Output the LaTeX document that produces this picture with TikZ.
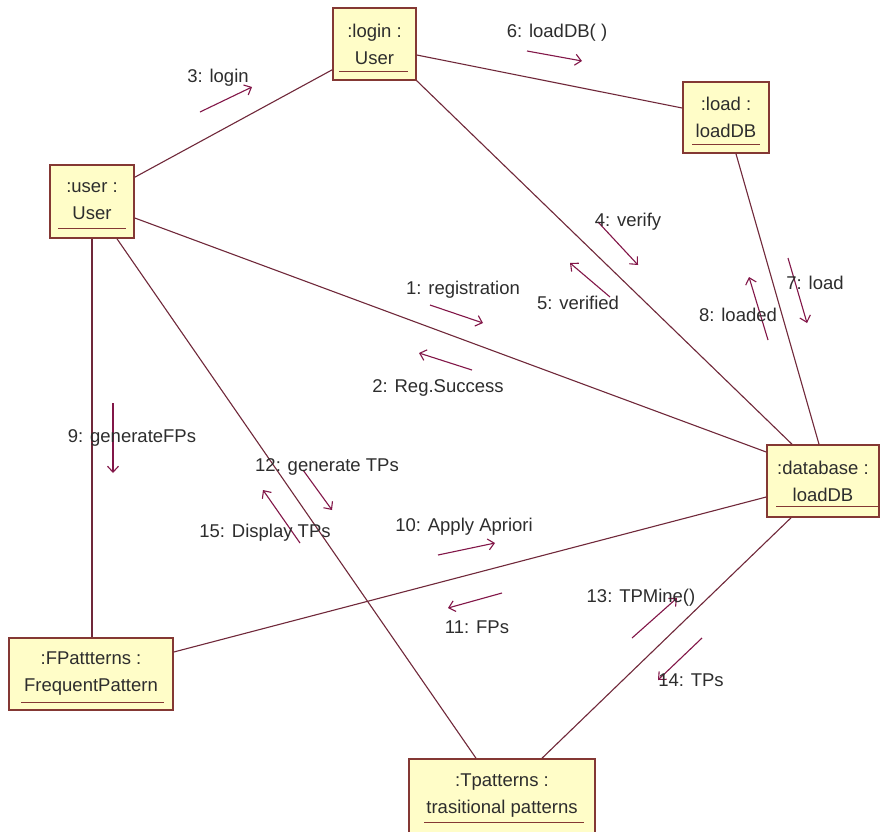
\documentclass[tikz,border=0pt]{standalone}
\usepackage{fontspec}
\setmainfont{Liberation Sans}
\usetikzlibrary{arrows.meta}
\definecolor{linec}{RGB}{112,40,58}
\definecolor{msgc}{RGB}{130,22,72}
\definecolor{boxdraw}{RGB}{132,56,52}
\definecolor{boxfill}{RGB}{255,253,200}
\definecolor{txtc}{RGB}{45,45,45}
\tikzset{
  obj/.style={draw=boxdraw, line width=1.6pt, fill=boxfill, inner sep=0pt,
    align=center, text=txtc, font=\fontsize{18.5}{27}\selectfont},
  link/.style={draw=linec, line width=1.1pt},
  msg/.style={draw=msgc, line width=1.1pt, -{Straight Barb[length=6pt,width=11pt]}},
  lbl/.style={text=txtc, font=\fontsize{18.5}{22}\selectfont, inner sep=0pt},
  uline/.style={draw=boxdraw, line width=1.3pt}
}
\begin{document}
\begin{tikzpicture}[x=1pt,y=-1pt]
\useasboundingbox (0,0) rectangle (881,831);
\fill[white] (0,0) rectangle (881,831);
% objects
\node[obj, minimum width=83pt, minimum height=72pt] (login) at (374.5,44) {:login :\\User};
\node[obj, minimum width=84pt, minimum height=73pt] (user) at (92,201.5) {:user :\\User};
\node[obj, minimum width=86pt, minimum height=71pt] (load) at (726,117.5) {:load :\\loadDB};
\node[obj, minimum width=112pt, minimum height=72pt] (db) at (823,481) {:database :\\loadDB};
\node[obj, minimum width=164pt, minimum height=72pt] (fp) at (91,674) {:FPattterns :\\FrequentPattern};
\node[obj, minimum width=186pt, minimum height=74pt] (tp) at (502,796) {:Tpatterns :\\trasitional patterns};
% underlines
\draw[uline] ([xshift=7pt,yshift=9pt]login.south west) -- ([xshift=-9pt,yshift=9pt]login.south east);
\draw[uline] ([xshift=9pt,yshift=10pt]user.south west) -- ([xshift=-9pt,yshift=10pt]user.south east);
\draw[uline] ([xshift=10pt,yshift=9pt]load.south west) -- ([xshift=-10pt,yshift=9pt]load.south east);
\draw[uline] ([xshift=10pt,yshift=11pt]db.south west) -- ([xshift=-2pt,yshift=11pt]db.south east);
\draw[uline] ([xshift=13pt,yshift=8pt]fp.south west) -- ([xshift=-10pt,yshift=8pt]fp.south east);
\draw[uline] ([xshift=16pt,yshift=11pt]tp.south west) -- ([xshift=-12pt,yshift=11pt]tp.south east);
% links
\draw[link] ([yshift=-13pt]user.north east) -- ([yshift=11pt]login.south west);
\draw[link] ([yshift=-11pt]login.east) -- ([yshift=9.5pt]load.west);
\draw[link] (login.south east) -- ([xshift=-31pt]db.north);
\draw[link] ([xshift=10pt]load.south) -- ([xshift=-4pt]db.north);
\draw[link] ([yshift=-16.5pt]user.east) -- ([yshift=29pt]db.west);
\draw[link] ([xshift=25pt]user.south) -- ([xshift=-26pt]tp.north);
\draw[link] (user.south) -- (user.south |- fp.north);
\draw[link] ([yshift=22pt]fp.east) -- ([yshift=-16pt]db.west);
\draw[link] ([xshift=-32pt]db.south) -- ([xshift=40pt]tp.north);
% message arrows
\coordinate (m3a) at (200,112); \coordinate (m3b) at (252,87);
\coordinate (m6a) at (527,51); \coordinate (m6b) at (582,61);
\coordinate (m4a) at (598,222); \coordinate (m4b) at (638,265);
\coordinate (m5a) at (610,297); \coordinate (m5b) at (570,263);
\coordinate (m1a) at (430,305); \coordinate (m1b) at (483,323);
\coordinate (m2a) at (472,370); \coordinate (m2b) at (419,353);
\coordinate (m7a) at (788,258); \coordinate (m7b) at (807,323);
\coordinate (m8a) at (768,340); \coordinate (m8b) at (749,277);
\coordinate (m9a) at (113,403); \coordinate (m9b) at (113,473);
\coordinate (m12a) at (303,470); \coordinate (m12b) at (332,510);
\coordinate (m15a) at (300,543); \coordinate (m15b) at (263,490);
\coordinate (m10a) at (438,555); \coordinate (m10b) at (495,543);
\coordinate (m11a) at (502,593); \coordinate (m11b) at (448,608);
\coordinate (m13a) at (632,638); \coordinate (m13b) at (677,598);
\coordinate (m14a) at (702,638); \coordinate (m14b) at (658,680);
\foreach \m in {3,6,4,5,1,2,7,8,9,12,15,10,11,13,14}
  \draw[msg] (m\m a) -- (m\m b);
% labels
\node[lbl] (l3) at (218,78) {3: login};
\node[lbl] (l6) at (557,33) {6: loadDB( )};
\node[lbl] (l4) at (628,222) {4: verify};
\node[lbl] (l5) at (578,303) {5: verified};
\node[lbl] (l1) at (463,290) {1: registration};
\node[lbl] (l2) at (438,388) {2: Reg.Success};
\node[lbl] (l7) at (815,283) {7: load};
\node[lbl] (l8) at (738,315) {8: loaded};
\node[lbl] (l9) at (132,438) {9: generateFPs};
\node[lbl] (l12) at (327,467) {12: generate TPs};
\node[lbl] (l15) at (265,533) {15: Display TPs};
\node[lbl] (l10) at (464,527) {10: Apply Apriori};
\node[lbl] (l11) at (477,627) {11: FPs};
\node[lbl] (l13) at (641,598) {13: TPMine()};
\node[lbl] (l14) at (691,680) {14: TPs};
\end{tikzpicture}
\end{document}
